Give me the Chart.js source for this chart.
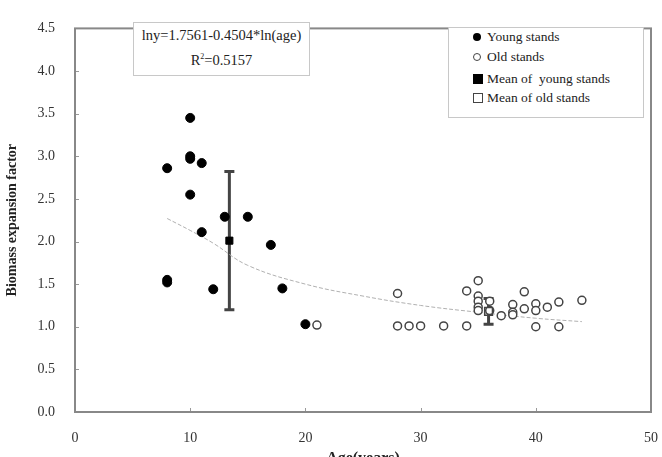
<!DOCTYPE html>
<html>
<head>
<meta charset="utf-8">
<script src="https://cdn.jsdelivr.net/npm/chart.js@4"></script>
<style>
  html, body { margin: 0; padding: 0; background: #fff; }
  #wrap { position: relative; width: 662px; height: 457px; }
  canvas { position: absolute; left: 0; top: 0; }
  .box { position: absolute; border: 1px solid #c8c8c8; background: #fff;
         font-family: "Liberation Serif", "Times New Roman", serif; color: #222; }
  #eq { left: 133px; top: 22px; width: 177px; height: 54px; text-align: center;
        font-size: 14.5px; line-height: 22px; padding-top: 1px; box-sizing: border-box; }
  #legend { left: 448px; top: 27px; width: 194px; height: 89px; font-size: 13.5px; }
  .item { position: absolute; left: 24px; height: 16px; line-height: 16px; }
  .mk { position: absolute; left: 0; top: 4px; box-sizing: border-box; }
  .item span { position: absolute; left: 14px; white-space: nowrap; }
</style>
</head>
<body>
<div id="wrap">
  <canvas id="chart" width="662" height="457"></canvas>
  <div class="box" id="eq">lny=1.7561-0.4504*ln(age)<br>R<sup style="font-size:8px">2</sup>=0.5157</div>
  <div class="box" id="legend">
    <div class="item" style="top:1px"><div class="mk" style="width:8px;height:8px;border-radius:50%;background:#000"></div><span>Young stands</span></div>
    <div class="item" style="top:21px"><div class="mk" style="width:8px;height:8px;border-radius:50%;border:1.5px solid #444"></div><span>Old stands</span></div>
    <div class="item" style="top:43px"><div class="mk" style="width:10px;height:10px;top:3px;background:#000"></div><span>Mean of &nbsp;young stands</span></div>
    <div class="item" style="top:62px"><div class="mk" style="width:10px;height:10px;top:3px;border:1.5px solid #444"></div><span>Mean of old stands</span></div>
  </div>
</div>
<script>
// values
const youngAge = [8, 8, 8, 10, 10, 10, 10, 11, 11, 12, 13, 15, 17, 18, 20];
const youngBef = [2.86, 1.52, 1.55, 3.45, 3.00, 2.97, 2.55, 2.92, 2.11, 1.44, 2.29, 2.29, 1.96, 1.45, 1.03];

const oldAge = [21, 28, 28, 29, 30, 32, 34, 34, 35, 35, 35, 35, 35, 36, 36, 37, 38, 38, 38, 39, 39, 40, 40, 40, 41, 42, 42, 44];
const oldBef = [1.02, 1.39, 1.01, 1.01, 1.01, 1.01, 1.01, 1.42, 1.54, 1.36, 1.30, 1.23, 1.19, 1.30, 1.19, 1.13, 1.26, 1.17, 1.14, 1.41, 1.21, 1.27, 1.19, 1.00, 1.23, 1.29, 1.00, 1.31];

const meanYoung = { age: 13.4, bef: 2.01, err: 0.81 };
const meanOld = { age: 35.9, bef: 1.18, err: 0.15 };

// fitted curve
const trendAge = [8, 10, 12, 15, 20, 25, 30, 35, 40, 44];
const trendBef = [2.27, 2.13, 1.98, 1.72, 1.50, 1.36, 1.25, 1.17, 1.10, 1.06];

const xTicks = [0, 10, 20, 30, 40, 50];

const serif = '"Liberation Serif", "Times New Roman", serif';

const pts = (xs, ys) => xs.map((x, i) => ({ x: x, y: ys[i] }));

const frameAndBars = {
    id: 'frameAndBars',
    beforeDatasetsDraw(chart) {
        const { ctx, scales: { x, y } } = chart;
        ctx.save();
        ctx.strokeStyle = '#444';
        ctx.lineWidth = 3;
        [meanYoung, meanOld].forEach(m => {
            const px = x.getPixelForValue(m.age);
            const top = y.getPixelForValue(m.bef + m.err);
            const bot = y.getPixelForValue(m.bef - m.err);
            ctx.beginPath();
            ctx.moveTo(px, top); ctx.lineTo(px, bot);
            ctx.moveTo(px - 5, top); ctx.lineTo(px + 5, top);
            ctx.moveTo(px - 5, bot); ctx.lineTo(px + 5, bot);
            ctx.stroke();
        });
        ctx.restore();
    },
    afterDraw(chart) {
        const { ctx, chartArea: a, scales: { x, y } } = chart;
        ctx.save();
        ctx.strokeStyle = '#999';
        ctx.lineWidth = 1;
        x.ticks.forEach(t => {
            const px = Math.round(x.getPixelForValue(t.value)) + 0.5;
            ctx.beginPath(); ctx.moveTo(px, a.bottom); ctx.lineTo(px, a.bottom - 4); ctx.stroke();
        });
        y.ticks.forEach(t => {
            const py = Math.round(y.getPixelForValue(t.value)) + 0.5;
            ctx.beginPath(); ctx.moveTo(a.left, py); ctx.lineTo(a.left + 4, py); ctx.stroke();
        });
        ctx.strokeStyle = '#888';
        ctx.lineWidth = 2;
        ctx.strokeRect(a.left, a.top, a.right - a.left, a.bottom - a.top);
        ctx.restore();
    }
};

new Chart(document.getElementById('chart'), {
    type: 'scatter',
    data: {
        datasets: [
            {
                label: 'trend',
                data: pts(trendAge, trendBef),
                showLine: true,
                borderColor: '#b0b0b0',
                borderWidth: 1,
                borderDash: [4, 2],
                pointRadius: 0,
                tension: 0.4,
                order: 5
            },
            {
                label: 'Young stands',
                data: pts(youngAge, youngBef),
                backgroundColor: '#000',
                borderColor: '#000',
                pointRadius: 4.5,
                order: 2
            },
            {
                label: 'Old stands',
                data: pts(oldAge, oldBef),
                backgroundColor: '#fff',
                borderColor: '#444',
                borderWidth: 1.5,
                pointRadius: 4,
                order: 3
            },
            {
                label: 'Mean of young stands',
                data: [{ x: meanYoung.age, y: meanYoung.bef }],
                pointStyle: 'rect',
                backgroundColor: '#000',
                borderColor: '#000',
                pointRadius: 5,
                order: 1
            },
            {
                label: 'Mean of old stands',
                data: [{ x: meanOld.age, y: meanOld.bef }],
                pointStyle: 'rect',
                backgroundColor: 'rgba(255,255,255,0)',
                borderColor: '#444',
                borderWidth: 1.5,
                pointRadius: 5.5,
                order: 1
            }
        ]
    },
    options: {
        responsive: false,
        animation: false,
        layout: { padding: { top: 13, right: 11, left: 0, bottom: 0 } },
        plugins: {
            legend: { display: false },
            tooltip: { enabled: false }
        },
        scales: {
            x: {
                type: 'linear',
                min: 0,
                max: 50,
                afterBuildTicks: s => { s.ticks = xTicks.map(v => ({ value: v })); },
                afterFit: s => { s.height = 45; s.paddingLeft = 0; s.paddingRight = 0; },
                grid: { display: false, drawTicks: false },
                border: { display: false },
                ticks: {
                    padding: 18,
                    color: '#333',
                    font: { family: serif, size: 14 }
                },
                title: {
                    display: true,
                    text: 'Age(years)',
                    color: '#222',
                    font: { family: serif, size: 16, weight: 'bold' },
                    padding: { top: 0, bottom: -11 }
                }
            },
            y: {
                min: 0,
                max: 4.5,
                afterFit: s => { s.width = 75; },
                grid: { display: false, drawTicks: false },
                border: { display: false },
                ticks: {
                    stepSize: 0.5,
                    padding: 20,
                    color: '#333',
                    font: { family: serif, size: 14 },
                    callback: v => v.toFixed(1)
                },
                title: {
                    display: true,
                    text: 'Biomass expansion factor',
                    color: '#222',
                    font: { family: serif, size: 14, weight: 'bold' },
                    padding: { top: 4, bottom: 0 }
                }
            }
        }
    },
    plugins: [frameAndBars]
});
</script>
</body>
</html>
